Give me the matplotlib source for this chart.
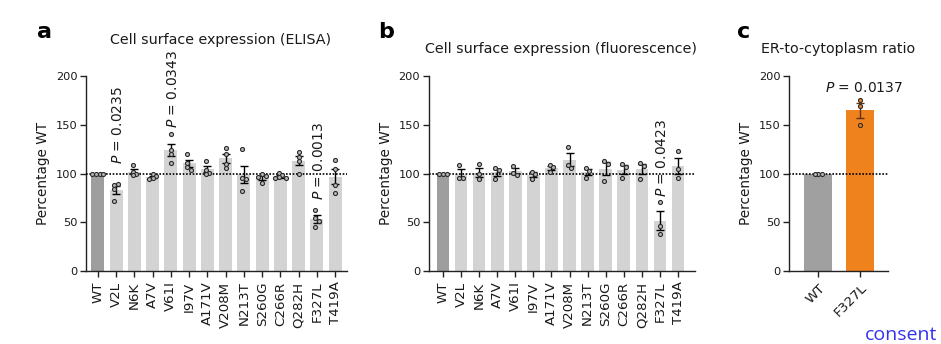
"""
Surface expression of receptor variants relative to WT (ELISA and
fluorescence) plus the ER-to-cytoplasm ratio for F327L.
Bars are means, error bars s.e.m., dots are individual replicates.
"""

import matplotlib

matplotlib.use("Agg")
import matplotlib.pyplot as plt
import numpy as np

plt.rcParams["font.family"] = ["DejaVu Sans"]
plt.rcParams["mathtext.fontset"] = "dejavusans"

INK = "#1a1a1a"
WT_GREY = "#9e9e9e"
MUT_GREY = "#d3d3d3"
ORANGE = "#f0821e"

variants = ["WT", "V2L", "N6K", "A7V", "V61I", "I97V", "A171V", "V208M",
            "N213T", "S260G", "C266R", "Q282H", "F327L", "T419A"]

# replicate values, percentage of WT
elisa_pts = [
    [100, 100, 100, 100],
    [88, 89, 84, 72],
    [109, 102, 99, 98],
    [99, 97, 95, 94],
    [141, 124, 120, 111],
    [120, 111, 107, 104],
    [113, 104, 101, 100],
    [126, 120, 110, 106],
    [125, 95, 94, 82],
    [99, 97, 96, 90],
    [101, 98, 96, 95, 95],
    [122, 117, 113, 100],
    [63, 54, 51, 45],
    [114, 105, 88, 80],
]
fluor_pts = [
    [100, 100, 100],
    [109, 95, 95],
    [110, 99, 94],
    [106, 104, 94],
    [108, 101, 98],
    [102, 100, 94],
    [109, 107, 102],
    [127, 109, 106],
    [106, 103, 95],
    [113, 110, 92],
    [110, 107, 95],
    [111, 108, 94],
    [71, 46, 38],
    [123, 105, 95],
]

ratio_groups = ["WT", "F327L"]
ratio_pts = [
    [100, 100, 100],
    [175, 169, 150],
]

elisa_p = {"V2L": "0.0235", "V61I": "0.0343", "F327L": "0.0013"}
fluor_p = {"F327L": "0.0423"}
ratio_p = {"F327L": "0.0137"}


def swarm_offsets(vals, xpx, ypx, diam=3.7):
    """Greedy sideways spread so replicate dots don't sit on top of each other."""
    placed = []
    offs = []
    for v in vals:
        yp = v * ypx
        k = 0
        while True:
            step = (k + 1) // 2 * (1 if k % 2 else -1) if k else 0
            xp = step * diam
            if all(np.hypot(xp - a, yp - b) >= diam for a, b in placed):
                break
            k += 1
        placed.append((xp, yp))
        offs.append(xp)
    offs = np.array(offs, dtype=float)
    offs -= (offs.max() + offs.min()) / 2
    return offs / xpx


def style_axes(ax):
    for s in ("top", "right"):
        ax.spines[s].set_visible(False)
    for s in ("left", "bottom"):
        ax.spines[s].set_linewidth(1.0)
        ax.spines[s].set_color("#222222")
    ax.set_ylim(0, 200)
    ax.set_yticks([0, 50, 100, 150, 200])
    ax.tick_params(axis="both", length=4, width=1, color="#222222",
                   labelcolor=INK)
    ax.tick_params(axis="y", labelsize=8.2, pad=2)
    ax.set_ylabel("Percentage WT", fontsize=9.8, color=INK, labelpad=4)
    ax.axhline(100, color="black", lw=1.2, ls=(0, (1, 1)), zorder=3)


def draw_panel(ax, groups, pts, colors, xpx, ypx, width, dot_face, err_color):
    x = np.arange(len(groups))
    means = np.array([np.mean(p) for p in pts])
    sems = np.array([np.std(p, ddof=1) / np.sqrt(len(p)) for p in pts])
    ax.bar(x, means, width=width, color=colors, zorder=2)
    ax.errorbar(x, means, yerr=sems, fmt="none", ecolor=err_color,
                elinewidth=1.0, capsize=3, capthick=1.0, zorder=4)
    for xi, p, fc in zip(x, pts, dot_face):
        dx = swarm_offsets(p, xpx, ypx)
        ax.plot(xi + dx, p, "o", ms=2.9, mfc=fc, mec="#2a2a2a", mew=0.8,
                ls="none", zorder=5)
    return x, means


fig = plt.figure(figsize=(9.41, 3.44), dpi=100)
H = 344.0
W = 941.0


def add_axes(left_px, right_px):
    return fig.add_axes([left_px / W, (H - 271) / H,
                         (right_px - left_px) / W, 195 / H])


# ---- a: ELISA
ax_a = add_axes(86, 347)
ax_a.set_xlim(-0.65, 13.65)
style_axes(ax_a)
cols = [WT_GREY] + [MUT_GREY] * (len(variants) - 1)
draw_panel(ax_a, variants, elisa_pts, cols, 18.1, 0.975, 0.7,
           ["#b8b8b8"] * len(variants), "black")
ax_a.set_xticks(range(len(variants)), variants, rotation=90, fontsize=9.6)
p_base_a = {"V2L": 110, "V61I": 147, "F327L": 73}
for name, pval in elisa_p.items():
    xi = variants.index(name)
    ax_a.text(xi + 0.1, p_base_a[name], r"$\it{P}$ = " + pval, rotation=90,
              ha="center", va="bottom", fontsize=10, color=INK,
              clip_on=False, zorder=6)

# ---- b: fluorescence
ax_b = add_axes(428.5, 695)
ax_b.set_xlim(-0.8, 13.94)
style_axes(ax_b)
draw_panel(ax_b, variants, fluor_pts, cols, 18.1, 0.975, 0.7,
           ["#b8b8b8"] * len(variants), "black")
ax_b.set_xticks(range(len(variants)), variants, rotation=90, fontsize=9.6)
for name, pval in fluor_p.items():
    xi = variants.index(name)
    ax_b.text(xi + 0.1, 76, r"$\it{P}$ = " + pval, rotation=90,
              ha="center", va="bottom", fontsize=10, color=INK,
              clip_on=False, zorder=6)

# ---- c: ER-to-cytoplasm ratio
ax_c = add_axes(789, 888)
ax_c.set_xlim(-0.7, 1.67)
style_axes(ax_c)
draw_panel(ax_c, ratio_groups, ratio_pts, ["#a0a0a0", ORANGE], 41.7, 0.975,
           0.68, ["#b8b8b8", ORANGE], "#5c3310")
ax_c.set_xticks(range(len(ratio_groups)), ratio_groups, rotation=45,
                ha="right", rotation_mode="anchor", fontsize=9.6)
for name, pval in ratio_p.items():
    xi = ratio_groups.index(name)
    ax_c.text(xi + 0.1, 180, r"$\it{P}$ = " + pval, ha="center", va="bottom",
              fontsize=10, color=INK, clip_on=False, zorder=6)

# titles and panel letters
fig.text(221 / W, 1 - 44 / H, "Cell surface expression (ELISA)",
         ha="center", va="baseline", fontsize=10.3, color=INK)
fig.text(561 / W, 1 - 53 / H, "Cell surface expression (fluorescence)",
         ha="center", va="baseline", fontsize=10.3, color=INK)
fig.text(838 / W, 1 - 53 / H, "ER-to-cytoplasm ratio",
         ha="center", va="baseline", fontsize=10.3, color=INK)
for lx, letter in ((37, "a"), (378, "b"), (737, "c")):
    fig.text(lx / W, 1 - 38 / H, letter, ha="left", va="baseline",
             fontsize=16, fontweight="heavy", color="black")

fig.text(937 / W, 1 - 340 / H, "consent", ha="right", va="baseline",
         fontsize=14, color="#3232f0", family=["Open Sans", "DejaVu Sans"])

fig.savefig("out.png", dpi=100)
